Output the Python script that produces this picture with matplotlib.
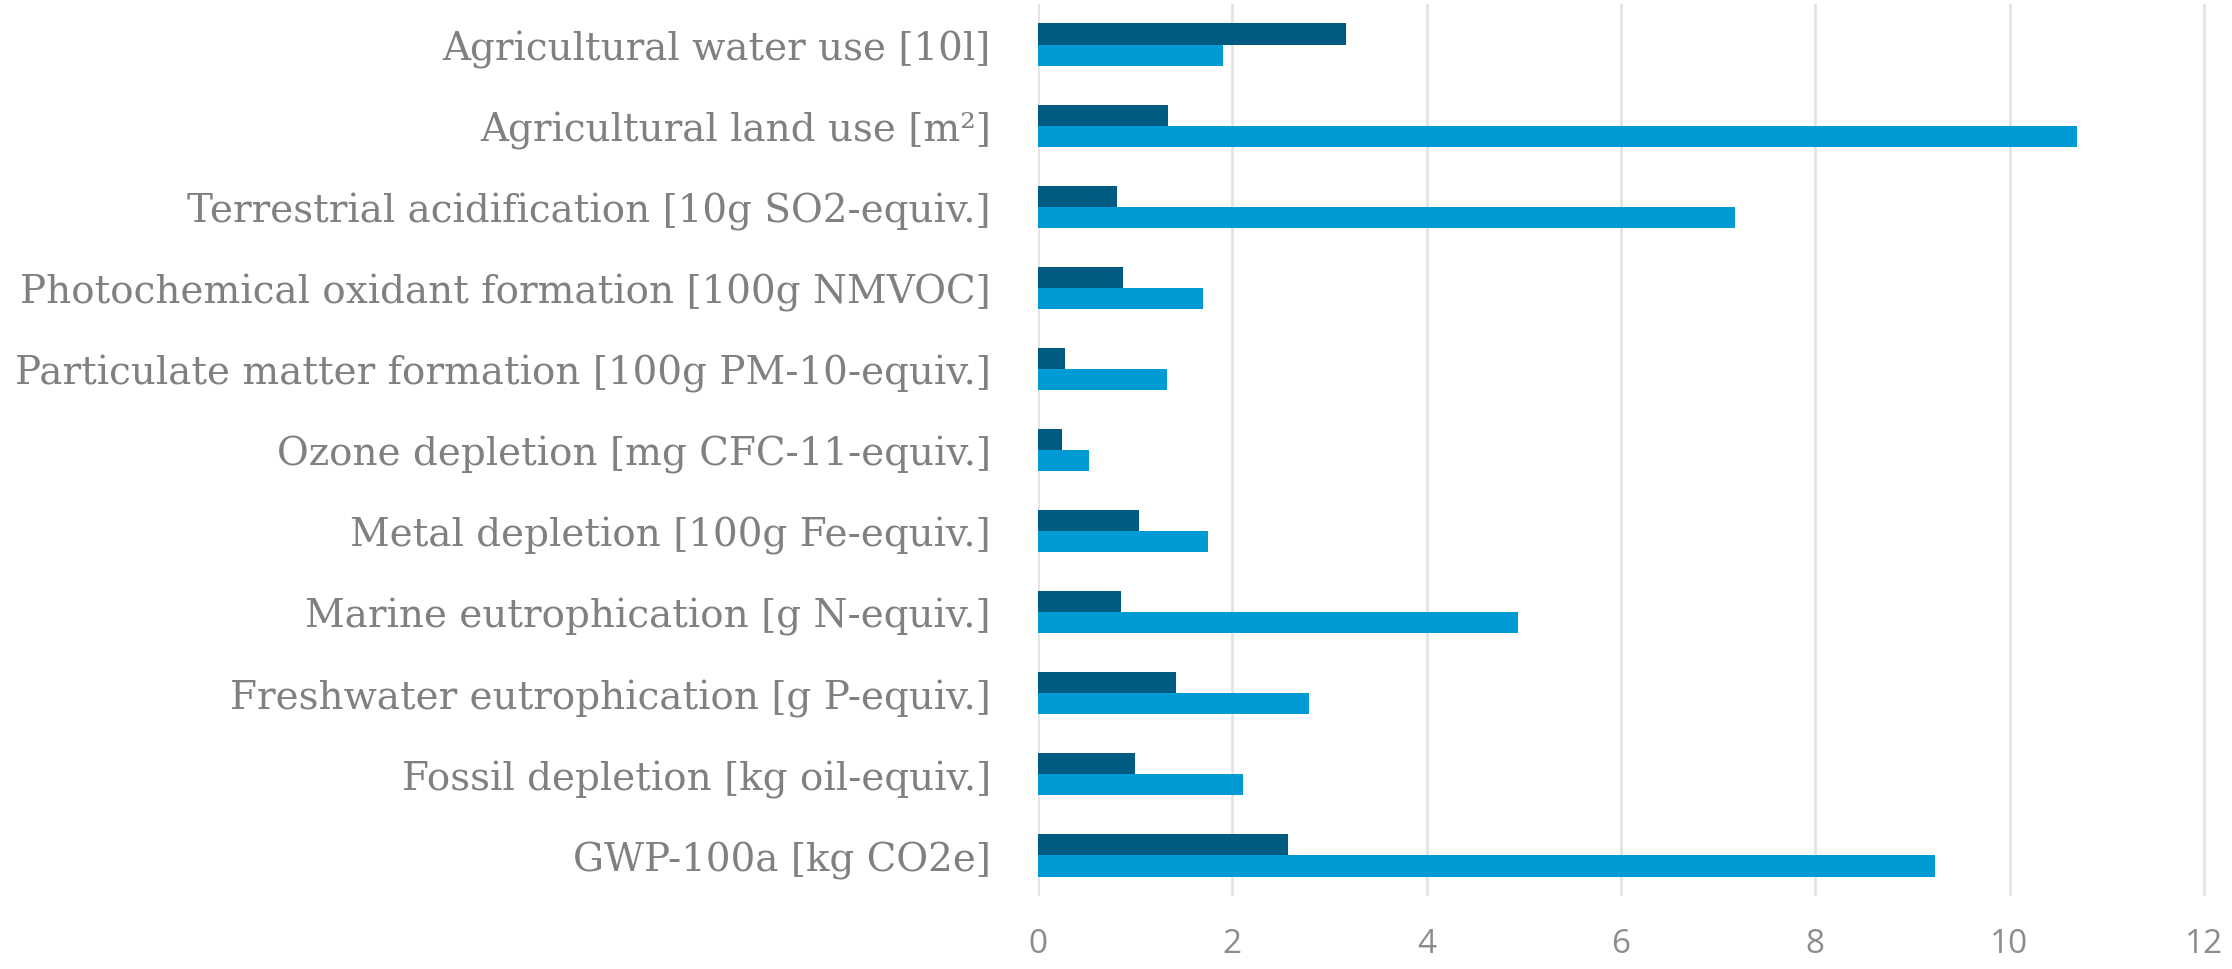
import matplotlib
matplotlib.use("Agg")
import matplotlib.pyplot as plt
import numpy as np

categories = [
    "GWP-100a [kg CO2e]",
    "Fossil depletion [kg oil-equiv.]",
    "Freshwater eutrophication [g P-equiv.]",
    "Marine eutrophication [g N-equiv.]",
    "Metal depletion [100g Fe-equiv.]",
    "Ozone depletion [mg CFC-11-equiv.]",
    "Particulate matter formation [100g PM-10-equiv.]",
    "Photochemical oxidant formation [100g NMVOC]",
    "Terrestrial acidification [10g SO2-equiv.]",
    "Agricultural land use [m²]",
    "Agricultural water use [10l]",
]
series_dark = [2.57, 1.00, 1.42, 0.85, 1.04, 0.25, 0.28, 0.87, 0.81, 1.34, 3.17]
series_light = [9.23, 2.11, 2.79, 4.94, 1.75, 0.53, 1.33, 1.70, 7.17, 10.69, 1.90]
xticks = [0, 2, 4, 6, 8, 10, 12]

fig = plt.figure(figsize=(22.32, 9.70), dpi=100)
ax = fig.add_axes([1038 / 2232, 73 / 970, 1 - 1038 / 2232, 892 / 970])

y = np.arange(len(categories))
h = 0.26
ax.barh(y + h / 2, series_dark, height=h, color="#005b82", zorder=3)
ax.barh(y - h / 2, series_light, height=h, color="#009bd4", zorder=3)

ax.set_xlim(0, 12.29)
ax.set_ylim(-0.5, len(categories) - 0.5)
ax.set_xticks(xticks)
ax.set_xticklabels([str(t) for t in xticks], fontsize=24, color="#8c8c8c",
                   family=["Open Sans", "DejaVu Sans"])
ax.set_yticks(y)
ax.set_yticklabels(categories, fontsize=28, color="#808080",
                   family=["DejaVu Serif"])
ax.tick_params(axis="both", length=0)
ax.tick_params(axis="y", pad=34)
ax.tick_params(axis="x", pad=22)
ax.grid(axis="x", color="#e3e3e3", linewidth=2, zorder=0)
for s in ax.spines.values():
    s.set_visible(False)

fig.savefig("out.png", dpi=100)
